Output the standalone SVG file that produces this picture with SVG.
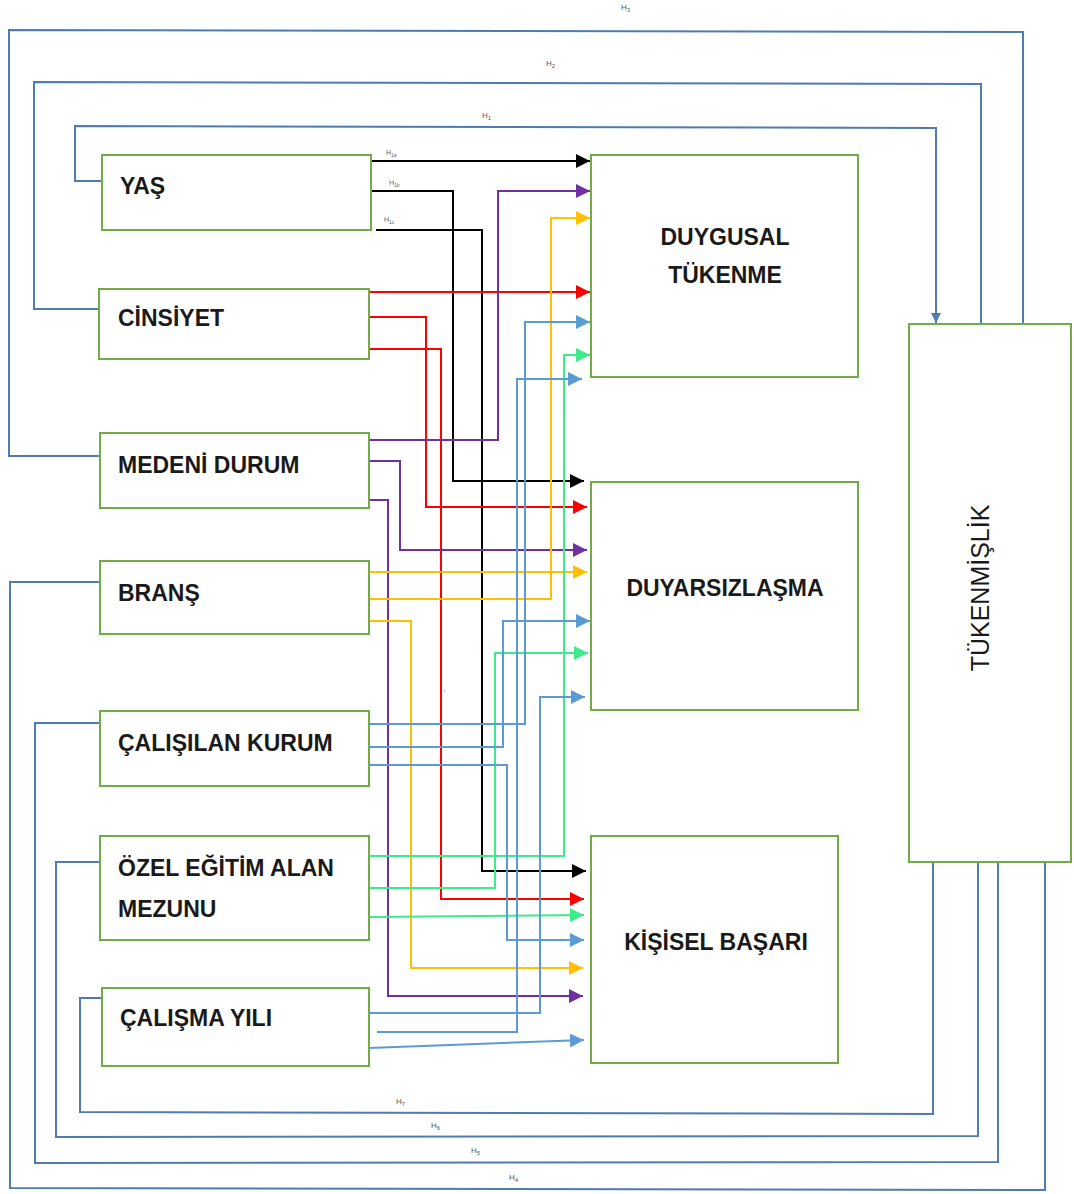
<svg xmlns="http://www.w3.org/2000/svg" width="1074" height="1194" viewBox="0 0 1074 1194">
<style>
.box{fill:#fff;stroke:#70AD47;stroke-width:2}
.lbl{font-family:"Liberation Sans",Arial,sans-serif;font-weight:bold;font-size:23px;fill:#1a1a1a}
.big{font-family:"Liberation Sans",Arial,sans-serif;font-size:25px;fill:#1a1a1a}
.c{fill:none;stroke-width:2}
.k{stroke:#000}
.r{stroke:#FF0000}
.p{stroke:#7030A0}
.o{stroke:#FFC000}
.g{stroke:#3DEB8A}
.b{stroke:#5B9BD5}
.h{fill:none;stroke:#4F7CB0;stroke-width:2}
.hl{font-family:"Liberation Sans",Arial,sans-serif;font-size:8px;fill:#555}
.sl{font-family:"Liberation Sans",Arial,sans-serif;font-size:7px;fill:#666}
</style>
<defs>
<marker id="ak" markerUnits="userSpaceOnUse" markerWidth="14" markerHeight="14" refX="14" refY="7" orient="auto"><path d="M0,0 L14,7 L0,14 z" fill="#000"/></marker>
<marker id="ar" markerUnits="userSpaceOnUse" markerWidth="14" markerHeight="14" refX="14" refY="7" orient="auto"><path d="M0,0 L14,7 L0,14 z" fill="#FF0000"/></marker>
<marker id="ap" markerUnits="userSpaceOnUse" markerWidth="14" markerHeight="14" refX="14" refY="7" orient="auto"><path d="M0,0 L14,7 L0,14 z" fill="#7030A0"/></marker>
<marker id="ao" markerUnits="userSpaceOnUse" markerWidth="14" markerHeight="14" refX="14" refY="7" orient="auto"><path d="M0,0 L14,7 L0,14 z" fill="#FFC000"/></marker>
<marker id="ag" markerUnits="userSpaceOnUse" markerWidth="14" markerHeight="14" refX="14" refY="7" orient="auto"><path d="M0,0 L14,7 L0,14 z" fill="#3DEB8A"/></marker>
<marker id="ab" markerUnits="userSpaceOnUse" markerWidth="14" markerHeight="14" refX="14" refY="7" orient="auto"><path d="M0,0 L14,7 L0,14 z" fill="#5B9BD5"/></marker>
<marker id="ah" markerUnits="userSpaceOnUse" markerWidth="10" markerHeight="10" refX="10" refY="5" orient="auto"><path d="M0,0 L10,5 L0,10 z" fill="#4F7CB0"/></marker>
</defs>
<rect width="1074" height="1194" fill="#fff"/>

<g id="connectors">
<path class="h" d="M102,181 H75 V126 L936,128 V323" marker-end="url(#ah)"/>
<path class="h" d="M99,309 H34 V82 L981,84 V324"/>
<path class="h" d="M100,456 H9 V30 L1023,32 V324"/>
<path class="h" d="M100,582 H10 V1188 L1045,1190 V862"/>
<path class="h" d="M99,723 H35 V1163 L998,1162 V862"/>
<path class="h" d="M99,862 H56 V1137 L978,1136 V862"/>
<path class="h" d="M102,998 H80 V1112 L933,1114 V862"/>

<path class="c k" d="M371,161 H590" marker-end="url(#ak)"/>
<path class="c k" d="M371,191 H453 V481 H584" marker-end="url(#ak)"/>
<path class="c k" d="M376,230 H482 V871 H586" marker-end="url(#ak)"/>

<path class="c r" d="M369,292 H590" marker-end="url(#ar)"/>
<path class="c r" d="M369,317 H426 V507 H587" marker-end="url(#ar)"/>
<path class="c r" d="M369,349 H441 V899 H584" marker-end="url(#ar)"/>

<path class="c p" d="M369,440 H498 V191 H590" marker-end="url(#ap)"/>
<path class="c p" d="M369,461 H400 V550 H587" marker-end="url(#ap)"/>
<path class="c p" d="M369,500 H388 V996 H583" marker-end="url(#ap)"/>

<path class="c o" d="M369,572 H587" marker-end="url(#ao)"/>
<path class="c o" d="M369,599 H551 V218 H590" marker-end="url(#ao)"/>
<path class="c o" d="M369,621 H411 V968 H583" marker-end="url(#ao)"/>

<path class="c g" d="M369,856 H564 V355 H590" marker-end="url(#ag)"/>
<path class="c g" d="M369,888 H495 V653 H588" marker-end="url(#ag)"/>
<path class="c g" d="M369,917 L584,915" marker-end="url(#ag)"/>

<path class="c b" d="M369,724 H525 V322 H590" marker-end="url(#ab)"/>
<path class="c b" d="M369,747 H503 V621 H590" marker-end="url(#ab)"/>
<path class="c b" d="M369,765 H507 V940 H584" marker-end="url(#ab)"/>
<path class="c b" d="M369,1013 H540 V697 H585" marker-end="url(#ab)"/>
<path class="c b" d="M377,1032 H517 V379 H582" marker-end="url(#ab)"/>
<path class="c b" d="M369,1048 L584,1040" marker-end="url(#ab)"/>

<text class="hl" x="621" y="10">H<tspan font-size="6" dy="2">3</tspan></text>
<text class="hl" x="546" y="66">H<tspan font-size="6" dy="2">2</tspan></text>
<text class="hl" x="482" y="118">H<tspan font-size="6" dy="2">1</tspan></text>
<text class="hl" x="396" y="1104">H<tspan font-size="6" dy="2">7</tspan></text>
<text class="hl" x="431" y="1128">H<tspan font-size="6" dy="2">6</tspan></text>
<text class="hl" x="471" y="1153">H<tspan font-size="6" dy="2">5</tspan></text>
<text class="hl" x="509" y="1180">H<tspan font-size="6" dy="2">4</tspan></text>
<text class="sl" x="386" y="155">H<tspan font-size="5" dy="2">1a</tspan></text>
<text class="sl" x="389" y="185">H<tspan font-size="5" dy="2">1b</tspan></text>
<text class="sl" x="384" y="222">H<tspan font-size="5" dy="2">1c</tspan></text>
<text class="sl" x="444" y="695" font-size="12" fill="#000">'</text>
</g>

<g id="yas"><rect class="box" x="102" y="155" width="269" height="75"/><text class="lbl" x="120" y="194">YAŞ</text></g>
<g id="cinsiyet"><rect class="box" x="99" y="289" width="270" height="70"/><text class="lbl" x="118" y="326">CİNSİYET</text></g>
<g id="medeni"><rect class="box" x="100" y="433" width="269" height="75"/><text class="lbl" x="118" y="473">MEDENİ DURUM</text></g>
<g id="brans"><rect class="box" x="100" y="561" width="269" height="73"/><text class="lbl" x="118" y="601">BRANŞ</text></g>
<g id="kurum"><rect class="box" x="100" y="711" width="269" height="75"/><text class="lbl" x="118" y="751">ÇALIŞILAN KURUM</text></g>
<g id="ozel"><rect class="box" x="100" y="836" width="269" height="104"/><text class="lbl" x="118" y="876">ÖZEL EĞİTİM ALAN</text><text class="lbl" x="118" y="917">MEZUNU</text></g>
<g id="yil"><rect class="box" x="102" y="988" width="267" height="78"/><text class="lbl" x="120" y="1026">ÇALIŞMA YILI</text></g>

<g id="duygusal"><rect class="box" x="591" y="155" width="267" height="222"/><text class="lbl" x="725" y="245" text-anchor="middle">DUYGUSAL</text><text class="lbl" x="725" y="283" text-anchor="middle">TÜKENME</text></g>
<g id="duyarsiz"><rect class="box" x="591" y="482" width="267" height="228"/><text class="lbl" x="725" y="596" text-anchor="middle">DUYARSIZLAŞMA</text></g>
<g id="kisisel"><rect class="box" x="591" y="836" width="247" height="227"/><text class="lbl" x="716" y="950" text-anchor="middle">KİŞİSEL BAŞARI</text></g>
<g id="tukenmislik"><rect class="box" x="909" y="324" width="162" height="538"/><text class="big" transform="translate(989,588) rotate(-90)" text-anchor="middle">TÜKENMİŞLİK</text></g>
</svg>
